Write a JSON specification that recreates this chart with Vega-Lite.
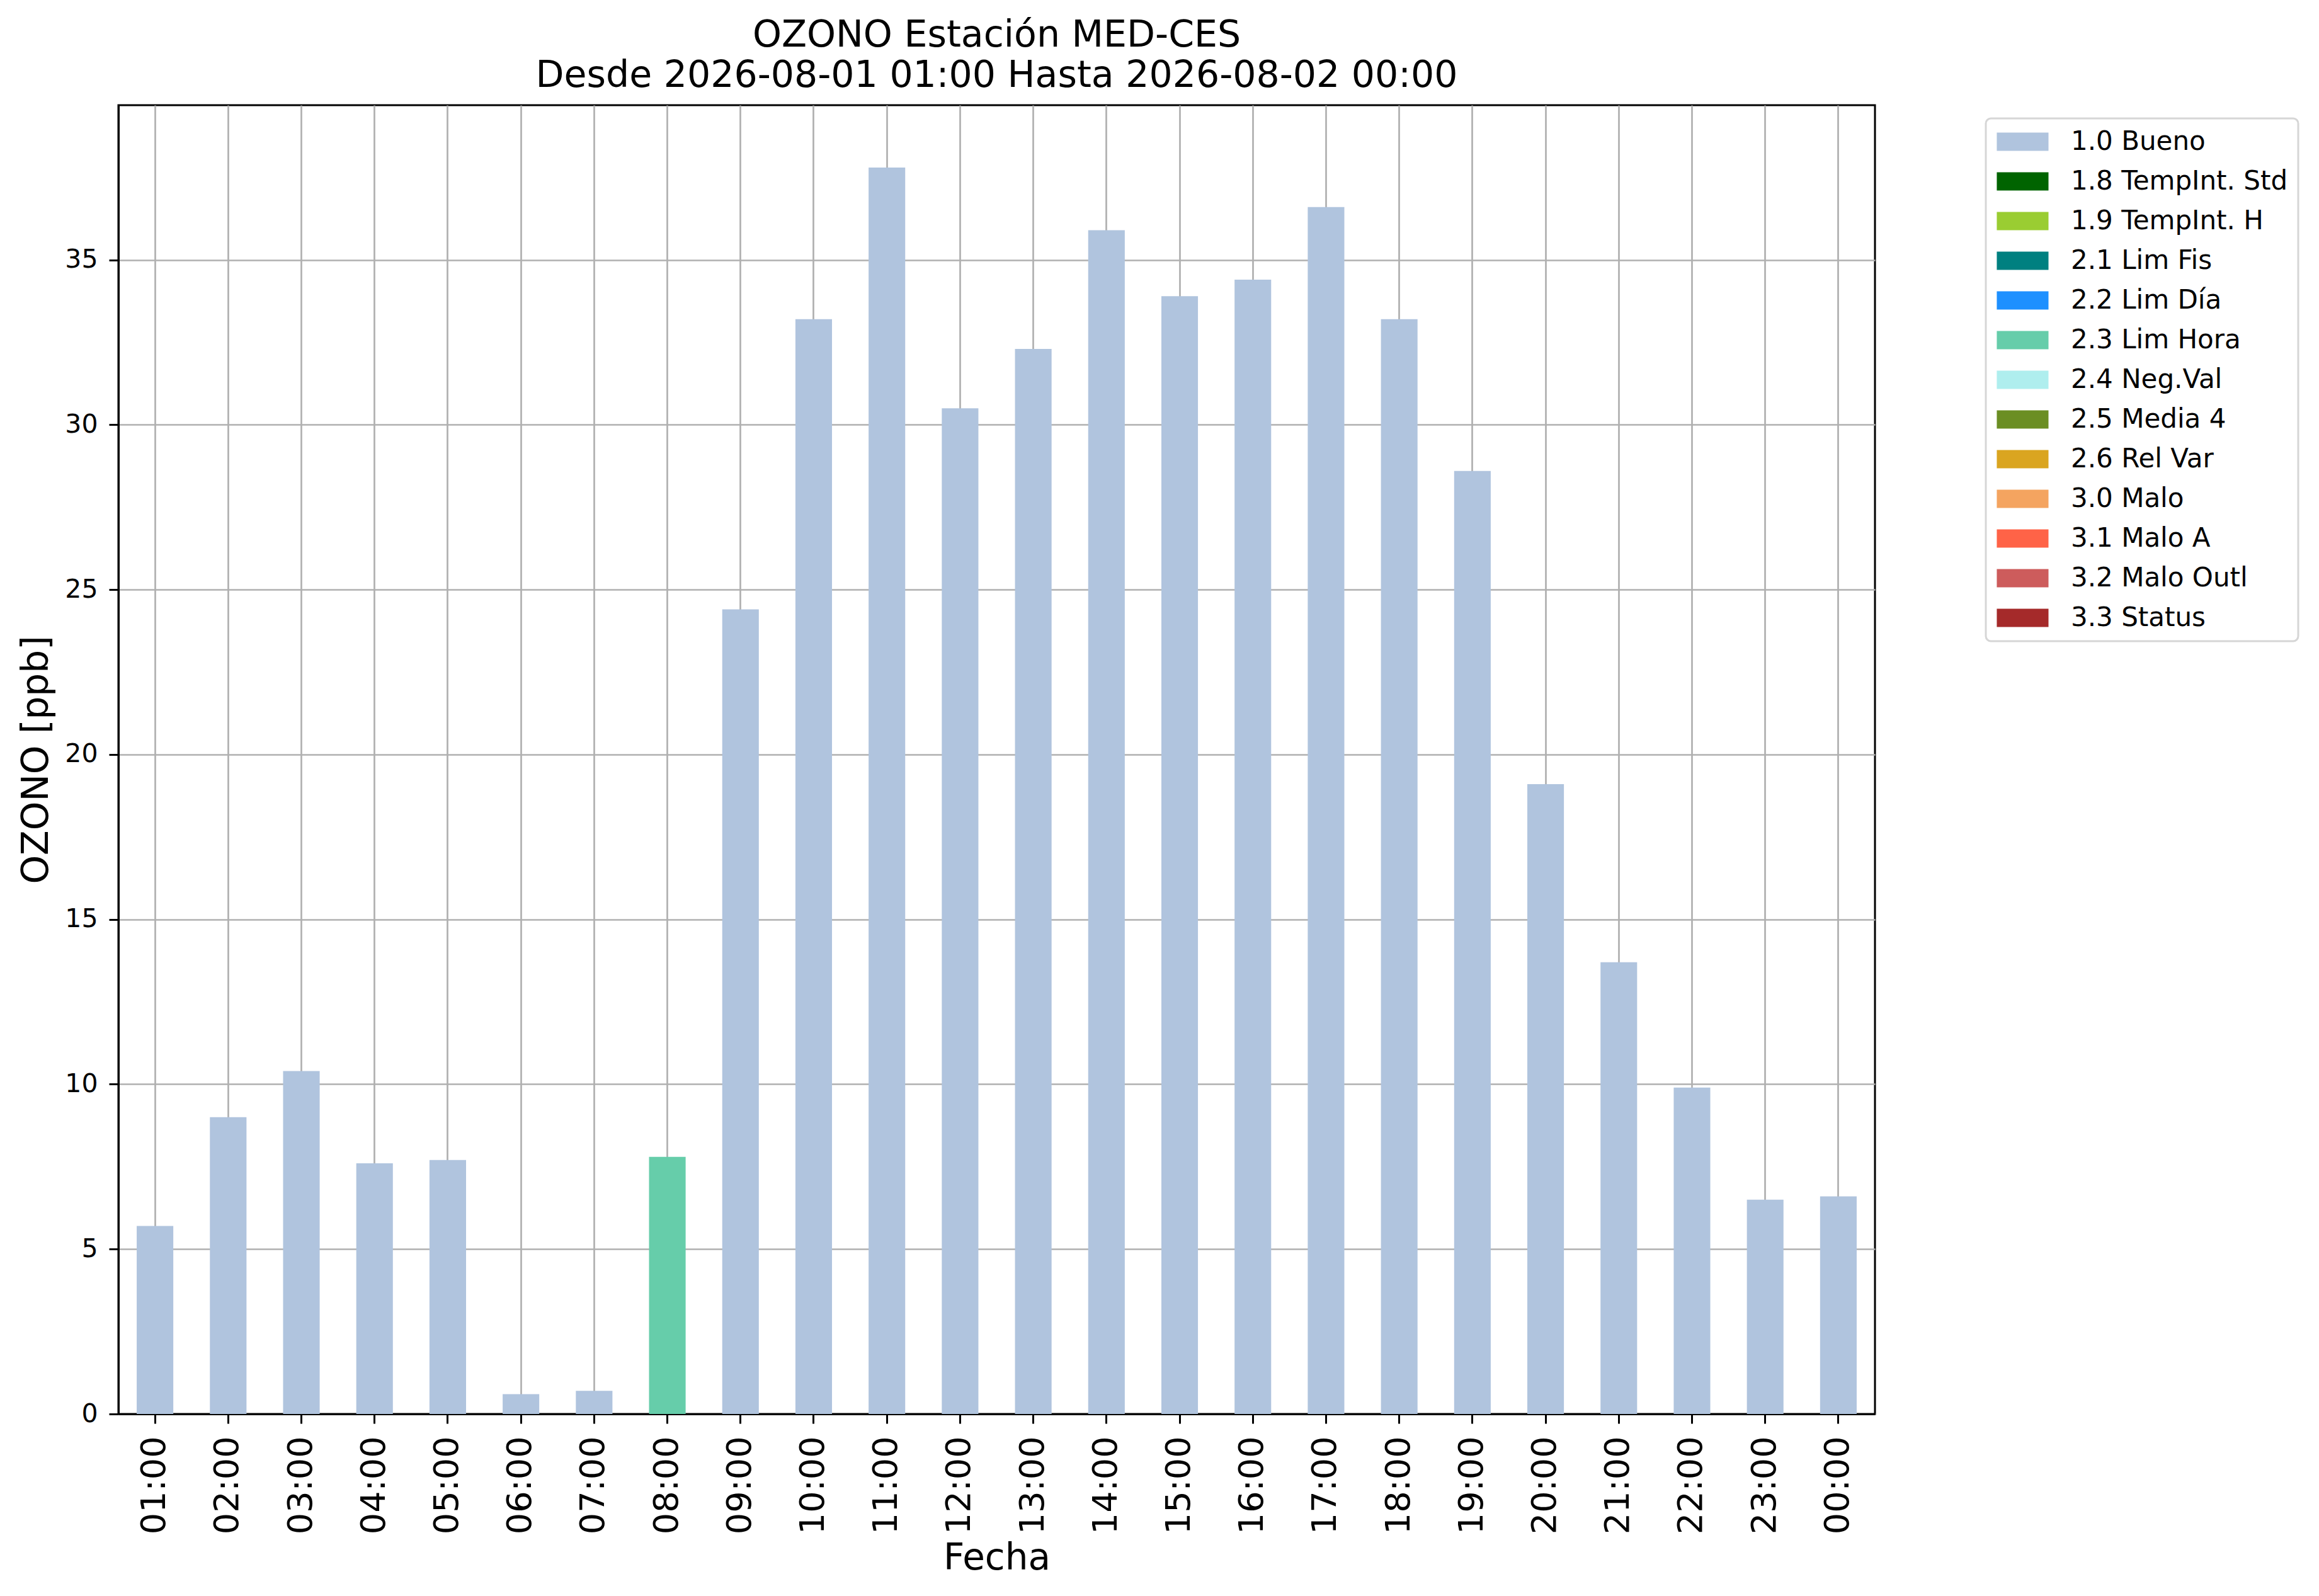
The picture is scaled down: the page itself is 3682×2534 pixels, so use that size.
{
  "$schema": "https://vega.github.io/schema/vega-lite/v6.json",
  "width": 2789,
  "height": 2078,
  "autosize": {"type": "none"},
  "padding": {"left": 188, "top": 167, "right": 705, "bottom": 289},
  "background": "white",
  "config": {
    "font": "DejaVu Sans",
    "view": {"stroke": "black", "strokeWidth": 3},
    "legend": {"strokeWidth": 3},
    "axis": {
      "labelFont": "DejaVu Sans",
      "titleFont": "DejaVu Sans",
      "labelColor": "black",
      "titleColor": "black",
      "titleFontWeight": "normal",
      "domainColor": "black",
      "domainWidth": 3,
      "tickColor": "black",
      "tickWidth": 3,
      "tickSize": 15,
      "gridColor": "#b0b0b0",
      "gridWidth": 2.7,
      "gridOpacity": 1,
      "zindex": 1
    }
  },
  "title": {
    "text": ["OZONO Estación MED-CES", "Desde 2026-08-01 01:00 Hasta 2026-08-02 00:00"],
    "font": "DejaVu Sans",
    "fontSize": 58.5,
    "fontWeight": "normal",
    "color": "black",
    "anchor": "middle",
    "baseline": "bottom",
    "lineHeight": 64,
    "offset": -41
  },
  "data": {
    "values": [
      {"hora": "01:00", "ozono": 5.7, "flag": "1.0 Bueno"},
      {"hora": "02:00", "ozono": 9.0, "flag": "1.0 Bueno"},
      {"hora": "03:00", "ozono": 10.4, "flag": "1.0 Bueno"},
      {"hora": "04:00", "ozono": 7.6, "flag": "1.0 Bueno"},
      {"hora": "05:00", "ozono": 7.7, "flag": "1.0 Bueno"},
      {"hora": "06:00", "ozono": 0.6, "flag": "1.0 Bueno"},
      {"hora": "07:00", "ozono": 0.7, "flag": "1.0 Bueno"},
      {"hora": "08:00", "ozono": 7.8, "flag": "2.3 Lim Hora"},
      {"hora": "09:00", "ozono": 24.4, "flag": "1.0 Bueno"},
      {"hora": "10:00", "ozono": 33.2, "flag": "1.0 Bueno"},
      {"hora": "11:00", "ozono": 37.8, "flag": "1.0 Bueno"},
      {"hora": "12:00", "ozono": 30.5, "flag": "1.0 Bueno"},
      {"hora": "13:00", "ozono": 32.3, "flag": "1.0 Bueno"},
      {"hora": "14:00", "ozono": 35.9, "flag": "1.0 Bueno"},
      {"hora": "15:00", "ozono": 33.9, "flag": "1.0 Bueno"},
      {"hora": "16:00", "ozono": 34.4, "flag": "1.0 Bueno"},
      {"hora": "17:00", "ozono": 36.6, "flag": "1.0 Bueno"},
      {"hora": "18:00", "ozono": 33.2, "flag": "1.0 Bueno"},
      {"hora": "19:00", "ozono": 28.6, "flag": "1.0 Bueno"},
      {"hora": "20:00", "ozono": 19.1, "flag": "1.0 Bueno"},
      {"hora": "21:00", "ozono": 13.7, "flag": "1.0 Bueno"},
      {"hora": "22:00", "ozono": 9.9, "flag": "1.0 Bueno"},
      {"hora": "23:00", "ozono": 6.5, "flag": "1.0 Bueno"},
      {"hora": "00:00", "ozono": 6.6, "flag": "1.0 Bueno"}
    ]
  },
  "mark": {"type": "bar"},
  "encoding": {
    "x": {
      "field": "hora",
      "type": "ordinal",
      "sort": null,
      "scale": {"paddingInner": 0.5, "paddingOuter": 0.25},
      "axis": {
        "title": "Fecha",
        "titleFontSize": 58,
        "titleBaseline": "alphabetic",
        "titleY": 246,
        "labelFontSize": 54,
        "labelAngle": 270,
        "labelAlign": "right",
        "labelBaseline": "middle",
        "labelPadding": 20,
        "bandPosition": 0.5,
        "grid": true
      }
    },
    "y": {
      "field": "ozono",
      "type": "quantitative",
      "scale": {"domain": [0, 39.69], "nice": false, "zero": true},
      "axis": {
        "title": "OZONO [ppb]",
        "titleFontSize": 58,
        "titleAngle": 270,
        "titleBaseline": "alphabetic",
        "titleAlign": "center",
        "titleX": -113,
        "titleY": 1039,
        "values": [0, 5, 10, 15, 20, 25, 30, 35],
        "labelFontSize": 41,
        "labelPadding": 18,
        "grid": true
      }
    },
    "color": {
      "field": "flag",
      "type": "nominal",
      "scale": {
        "domain": ["1.0 Bueno", "1.8 TempInt. Std", "1.9 TempInt. H", "2.1 Lim Fis", "2.2 Lim Día", "2.3 Lim Hora", "2.4 Neg.Val", "2.5 Media 4", "2.6 Rel Var", "3.0 Malo", "3.1 Malo A", "3.2 Malo Outl", "3.3 Status"],
        "range": ["#B0C4DE", "#006400", "#9ACD32", "#008080", "#1E90FF", "#66CDAA", "#AFEEEE", "#6B8E23", "#DAA520", "#F4A460", "#FF6347", "#CD5C5C", "#A52A2A"]
      },
      "legend": {
        "title": null,
        "orient": "none",
        "legendX": 2965,
        "legendY": 21,
        "symbolType": "M-1.35,-1H4.31V1H-1.35Z",
        "symbolSize": 841,
        "symbolStrokeWidth": 0,
        "labelFont": "DejaVu Sans",
        "labelFontSize": 42,
        "labelColor": "black",
        "labelOffset": 77,
        "labelLimit": 1000,
        "rowPadding": 21,
        "padding": 16,
        "strokeColor": "#d6d6d6",
        "cornerRadius": 8,
        "fillColor": "white"
      }
    }
  }
}
